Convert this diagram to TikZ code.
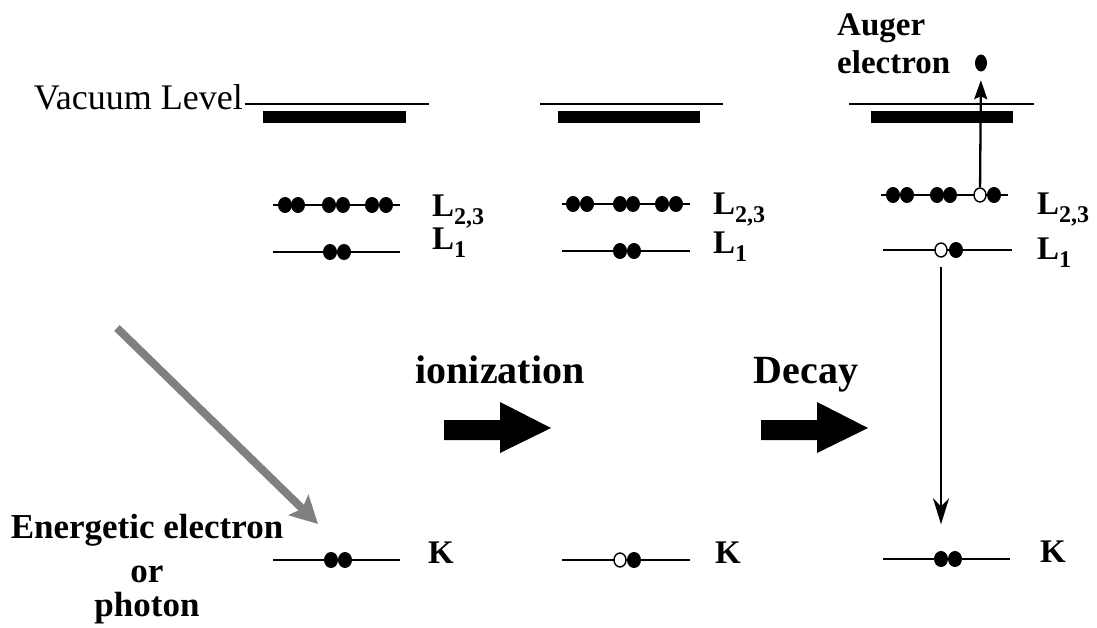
\documentclass[tikz,border=0pt]{standalone}
\usepackage{fontspec}
\setmainfont{Liberation Serif}
\usetikzlibrary{arrows.meta,shapes.geometric}
% level label with a lowered subscript
\newcommand\levlab[1]{L\raisebox{-8pt}{\fontsize{24}{24}\selectfont #1}}
\begin{document}
\begin{tikzpicture}[x=1pt,y=-1pt,
  level/.style={line width=2pt},
  vacline/.style={line width=2pt},
  vacbar/.style={fill=black},
  elec/.style={ellipse,fill=black,inner sep=0pt,minimum width=14pt,minimum height=16pt},
  hole/.style={ellipse,draw=black,fill=white,line width=1.4pt,inner sep=0pt,minimum width=12pt,minimum height=14pt},
  lab/.style={font=\fontsize{33}{37}\selectfont\bfseries,inner sep=0pt,anchor=base west},
  bigtext/.style={font=\fontsize{40}{44}\selectfont\bfseries,inner sep=0pt,anchor=base},
  sidetext/.style={font=\fontsize{35}{39}\selectfont\bfseries,inner sep=0pt,anchor=base},
  transarr/.style={line width=2.3pt,-{Stealth[length=26pt,width=16pt,inset=8pt]}},
  augerarr/.style={line width=2.3pt,-{Stealth[length=19pt,width=13pt,inset=3pt]}},
  beamarr/.style={line width=8pt,draw=black!50,-{Stealth[length=27pt,width=28pt,inset=5pt]}},
  blockarr/.style={fill=black}
]
\useasboundingbox (0,0) rectangle (1097,628);

% vacuum levels
\node[font=\fontsize{36}{40}\selectfont,inner sep=0pt,anchor=base east] (vactext) at (243,110) {Vacuum Level};
\draw[vacline] (245,104) -- (429,104);
\fill[vacbar] (263,111) rectangle (406,123);
\draw[vacline] (540,104) -- (723,104);
\fill[vacbar] (558,111) rectangle (700,123);
\draw[vacline] (849,104) -- (1034,104);
\fill[vacbar] (871,111) rectangle (1013,123);

% level lines
\draw[level] (273,205) -- (400,205);
\draw[level] (273,252) -- (400,252);
\draw[level] (273,560) -- (400,560);
\draw[level] (562,204) -- (690,204);
\draw[level] (562,251) -- (690,251);
\draw[level] (562,560) -- (690,560);
\draw[level] (881,195) -- (1008,195);
\draw[level] (883,250) -- (1012,250);
\draw[level] (883,559) -- (1010,559);

% ground state
\node[elec] (a1) at (285,205) {};
\node[elec] (a2) at (298,205) {};
\node[elec] (a3) at (329,205) {};
\node[elec] (a4) at (343,205) {};
\node[elec] (a5) at (372,205) {};
\node[elec] (a6) at (386,205) {};
\node[elec] (a7) at (330,252) {};
\node[elec] (a8) at (344,252) {};
\node[elec] (aKa) at (331,560) {};
\node[elec] (aKb) at (345,560) {};

% ionized state
\node[elec] (b1) at (573,204) {};
\node[elec] (b2) at (587,204) {};
\node[elec] (b3) at (620,204) {};
\node[elec] (b4) at (633,204) {};
\node[elec] (b5) at (662,204) {};
\node[elec] (b6) at (676,204) {};
\node[elec] (b7) at (620,251) {};
\node[elec] (b8) at (634,251) {};
\node[hole] (bKh) at (620,560) {};
\node[elec] (bKb) at (634,560) {};

% after decay
\node[elec] (c1) at (893,195) {};
\node[elec] (c2) at (907,195) {};
\node[elec] (c3) at (937,195) {};
\node[elec] (c4) at (950,195) {};
\node[hole] (cLh) at (980,195) {};
\node[elec] (c6) at (994,195) {};
\node[hole] (cL1h) at (941,250) {};
\node[elec] (c8) at (956,250) {};
\node[elec] (cKa) at (941,559) {};
\node[elec] (cKb) at (955,559) {};
\node[ellipse,fill=black,inner sep=0pt,minimum width=12pt,minimum height=17pt] (auger) at (981,63) {};

% level labels
\node[lab] (l1a) at (432,217) {\levlab{2,3}};
\node[lab] (l1b) at (432,250) {\levlab{1}};
\node[lab] (l1k) at (428,563) {K};
\node[lab] (l2a) at (713,215) {\levlab{2,3}};
\node[lab] (l2b) at (713,254) {\levlab{1}};
\node[lab] (l2k) at (715,563) {K};
\node[lab] (l3a) at (1037,215) {\levlab{2,3}};
\node[lab] (l3b) at (1037,260) {\levlab{1}};
\node[lab] (l3k) at (1040,562) {K};

% transitions
\draw[augerarr,shorten >=8.5pt] (cLh) -- (auger);
\draw[transarr,shorten <=9.5pt,shorten >=26.5pt] (cL1h) -- (cKa);

% incoming beam
\coordinate (beamstart) at (117,328);
\coordinate (beamend) at (318,524);
\draw[beamarr] (beamstart) -- (beamend);

% process arrows
\fill[blockarr] (444,420) -- (500,420) -- (500,402) -- (551,428) -- (500,453) -- (500,440) -- (444,440) -- cycle;
\fill[blockarr] (761,420) -- (817,420) -- (817,402) -- (868,428) -- (817,453) -- (817,440) -- (761,440) -- cycle;

% texts
\node[bigtext] (ion) at (500,383) {ionization};
\node[bigtext] (dec) at (806,383) {Decay};
\node[lab] (aug1) at (837,36) {Auger};
\node[lab] (aug2) at (837,74) {electron};
\node[sidetext] (src1) at (147,538) {Energetic electron};
\node[sidetext] (src2) at (147,582) {or};
\node[sidetext] (src3) at (147,616) {photon};
\end{tikzpicture}
\end{document}
